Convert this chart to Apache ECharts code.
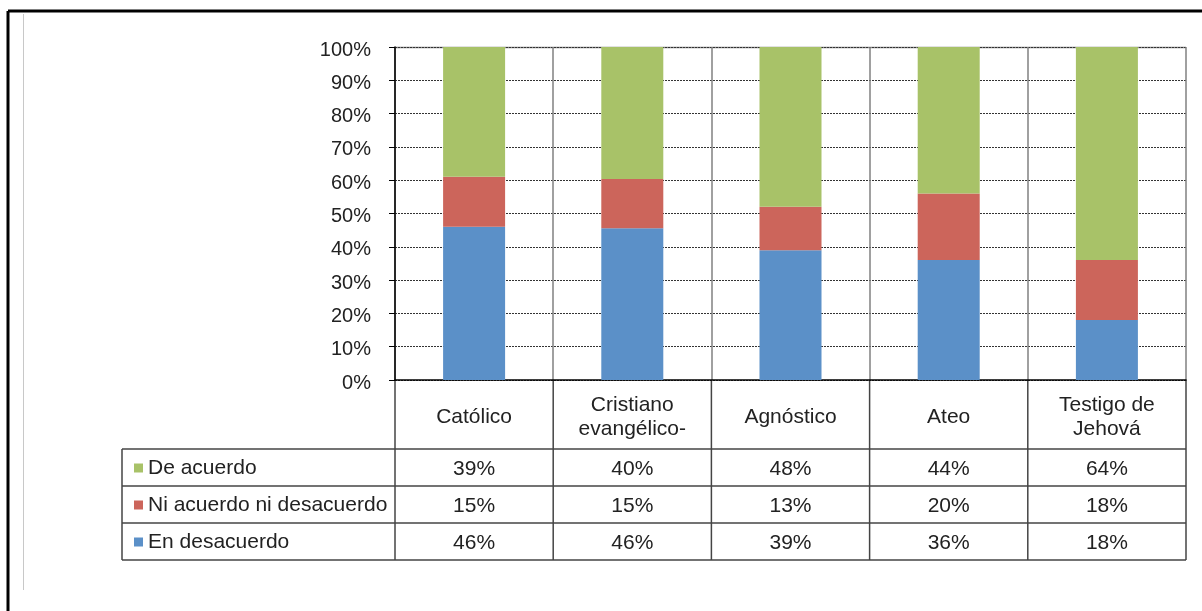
<!DOCTYPE html>
<html>
<head>
<meta charset="utf-8">
<script src="https://cdn.jsdelivr.net/npm/echarts@6/dist/echarts.min.js"></script>
<style>
  html, body { margin: 0; padding: 0; background: #fff; }
  #chart { width: 1202px; height: 611px; }
</style>
</head>
<body>
<div id="chart"></div>
<script>
var categorias = ['Católico', 'Cristiano\nevangélico-', 'Agnóstico', 'Ateo', 'Testigo de\nJehová'];
var deAcuerdo = [39, 40, 48, 44, 64];
var niAcuerdo = [15, 15, 13, 20, 18];
var enDesacuerdo = [46, 46, 39, 36, 18];
var ticksY = [0, 10, 20, 30, 40, 50, 60, 70, 80, 90, 100];

var colores = {
  de: '#a8c268',
  ni: '#cc655b',
  en: '#5b90c8'
};

var fuente = 'Liberation Sans, Arial, sans-serif';

// 100% apilado: cada columna se normaliza a su total
function porcentaje(arr) {
  return arr.map(function (v, i) {
    var total = deAcuerdo[i] + niAcuerdo[i] + enDesacuerdo[i];
    return v / total * 100;
  });
}

var chart = echarts.init(document.getElementById('chart'));

// grilla del grafico
var L = 395, R = 1186, T = 47, B = 380;
var filas = [449, 486, 523, 560];

// ejes extra para las filas de la tabla
function ejeFila(arr, margen) {
  return {
    type: 'category',
    position: 'bottom',
    data: categorias,
    axisLine: { show: false },
    axisTick: { show: false },
    splitLine: { show: false },
    axisLabel: {
      interval: 0,
      margin: margen,
      verticalAlign: 'middle',
      color: '#222',
      fontSize: 21,
      fontFamily: fuente,
      formatter: function (v, i) { return arr[i] + '%'; }
    }
  };
}

var lineas = [];
// marco exterior
lineas.push({ type: 'line', shape: { x1: 8, y1: 11, x2: 1202, y2: 11 }, style: { stroke: '#000', lineWidth: 3 } });
lineas.push({ type: 'line', shape: { x1: 8, y1: 11, x2: 8, y2: 611 }, style: { stroke: '#000', lineWidth: 3 } });
lineas.push({ type: 'line', shape: { x1: 23.5, y1: 14, x2: 23.5, y2: 590 }, style: { stroke: '#c8c8c8', lineWidth: 1 } });
// borde superior del area
lineas.push({ type: 'line', shape: { x1: L, y1: T + 0.5, x2: R, y2: T + 0.5 }, style: { stroke: '#888', lineWidth: 1.5 } });
// tabla
filas.forEach(function (y) {
  lineas.push({ type: 'line', shape: { x1: 122, y1: y, x2: R, y2: y }, style: { stroke: '#444', lineWidth: 1.5 } });
});
lineas.push({ type: 'line', shape: { x1: 122, y1: filas[0], x2: 122, y2: filas[3] }, style: { stroke: '#444', lineWidth: 1.5 } });
for (var k = 0; k <= categorias.length; k++) {
  var x = L + (R - L) * k / categorias.length;
  lineas.push({ type: 'line', shape: { x1: x, y1: B, x2: x, y2: filas[3] }, style: { stroke: '#444', lineWidth: 1.5 } });
}

var option = {
  backgroundColor: '#ffffff',
  animation: false,
  grid: { left: L, right: 1202 - R, top: T, bottom: 611 - B, containLabel: false },
  legend: {
    orient: 'vertical',
    left: 129,
    top: 452,
    icon: 'rect',
    itemWidth: 9,
    itemHeight: 9,
    itemGap: 15,
    selectedMode: false,
    data: ['De acuerdo', 'Ni acuerdo ni desacuerdo', 'En desacuerdo'],
    textStyle: { fontSize: 21, fontFamily: fuente, color: '#222', lineHeight: 22 }
  },
  xAxis: [
    {
      type: 'category',
      position: 'bottom',
      data: categorias,
      axisLine: { lineStyle: { color: '#000', width: 1.5 } },
      axisTick: { show: false },
      splitLine: { show: true, lineStyle: { color: '#808080', width: 1.5 } },
      axisLabel: {
        interval: 0,
        margin: 37,
        verticalAlign: 'middle',
        lineHeight: 24,
        color: '#222',
        fontSize: 21,
        fontFamily: fuente
      }
    },
    ejeFila(deAcuerdo, 89),
    ejeFila(niAcuerdo, 126),
    ejeFila(enDesacuerdo, 163)
  ],
  yAxis: {
    type: 'value',
    min: 0,
    max: 100,
    interval: 10,
    axisLine: { show: true, lineStyle: { color: '#000', width: 1.5 } },
    axisTick: { show: true, length: 6, lineStyle: { color: '#000' } },
    splitLine: { lineStyle: { color: '#333', type: [2, 1], width: 1 } },
    axisLabel: {
      margin: 24,
      verticalAlign: 'top',
      lineHeight: 6,
      color: '#222',
      fontSize: 20,
      fontFamily: fuente,
      formatter: function (v) { return ticksY.indexOf(v) >= 0 ? v + '%' : ''; }
    }
  },
  series: [
    { name: 'En desacuerdo', type: 'bar', stack: 'a', barWidth: 62, data: porcentaje(enDesacuerdo), itemStyle: { color: colores.en } },
    { name: 'Ni acuerdo ni desacuerdo', type: 'bar', stack: 'a', barWidth: 62, data: porcentaje(niAcuerdo), itemStyle: { color: colores.ni } },
    { name: 'De acuerdo', type: 'bar', stack: 'a', barWidth: 62, data: porcentaje(deAcuerdo), itemStyle: { color: colores.de } }
  ],
  graphic: lineas
};

chart.setOption(option);
</script>
</body>
</html>
